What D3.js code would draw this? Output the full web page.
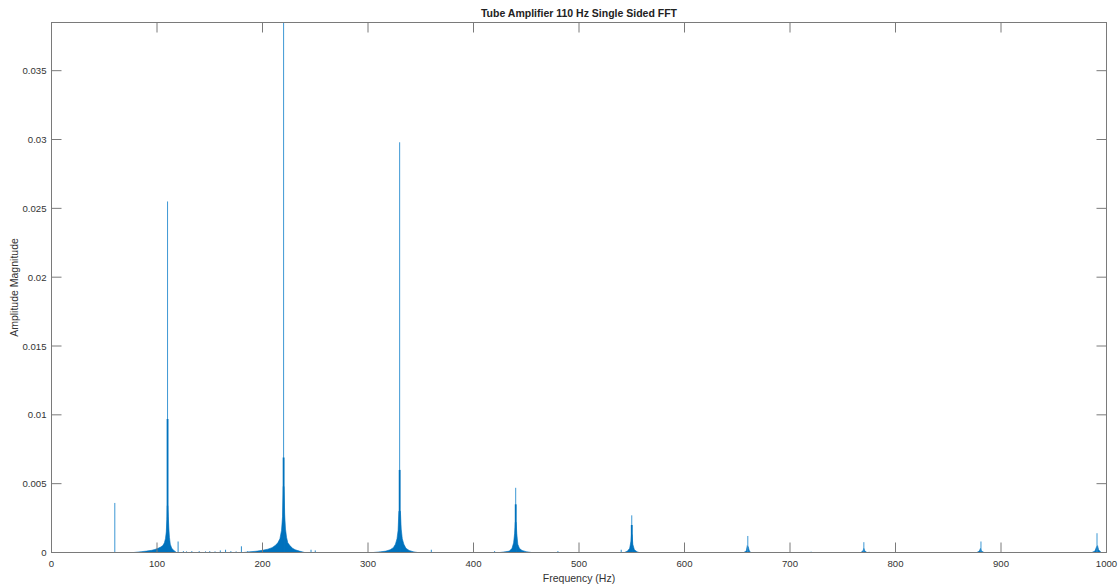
<!DOCTYPE html>
<html>
<head>
<meta charset="utf-8">
<script src="https://cdn.jsdelivr.net/npm/d3@7"></script>
<style>
body{margin:0;background:#fff;}
text{font-family:"Liberation Sans",Arial,sans-serif;fill:#333;}
</style>
</head>
<body>
<svg id="graph"></svg>
<script>
// tick values
var xTicks=[0,100,200,300,400,500,600,700,800,900,1000];
var yTicks=[0,0.005,0.01,0.015,0.02,0.025,0.03,0.035];

// skirts around each harmonic [freq, amplitude]
var skirt110=[[78,0],[85,0.00006],[90,0.0001],[95,0.00016],[98,0.00022],[101,0.0003],[103.5,0.0004],[105.5,0.0005],[107,0.0007],[108,0.001],[108.8,0.0015],[109.4,0.0024],[109.7,0.0034],[110.3,0.0034],[110.7,0.0026],[111.2,0.0018],[111.8,0.0011],[112.6,0.0006],[114,0.0003],[116,0.00015],[118.5,0]];
var skirt220=[[182,0],[188,0.00005],[195,0.0001],[200,0.00016],[205,0.00024],[209,0.00035],[212,0.0005],[214.5,0.0007],[216.5,0.001],[218,0.0016],[219,0.0026],[219.6,0.0048],[220.4,0.0048],[221,0.0028],[221.8,0.0017],[222.8,0.0011],[224,0.0007],[226,0.0005],[228.5,0.0003],[231,0.0002],[235,0.0001],[240,0]];
var skirt330=[[305,0],[312,0.00005],[317,0.0001],[321,0.0002],[324,0.00035],[326,0.0006],[327.5,0.001],[328.5,0.0016],[329.3,0.003],[330.7,0.003],[331.5,0.0017],[332.5,0.001],[334,0.0006],[336,0.0003],[339,0.00015],[343,0.00005],[347,0]];
var skirt440=[[425,0],[430,0.00005],[434,0.0001],[436.5,0.0003],[438,0.0007],[439,0.0014],[439.6,0.0022],[440.4,0.0022],[441,0.0014],[442,0.0006],[443.5,0.0003],[446,0.00015],[450,0.00006],[455,0]];
var skirt550=[[543,0],[546,0.0001],[548,0.0003],[549.2,0.0008],[549.8,0.0013],[550.3,0.0013],[551,0.0006],[552.5,0.0002],[555,0.00005],[557,0]];
var skirt660=[[656,0],[658.5,0.0001],[659.5,0.0005],[660.5,0.0004],[661.5,0.0001],[663,0]];
var skirt770=[[767,0],[769,0.0001],[770,0.0003],[771,0.0001],[773,0]];
var skirt880=[[877,0],[879.5,0.0001],[880.5,0.0003],[881.5,0.0001],[884,0]];
var skirt990=[[986,0],[989,0.0001],[990.5,0.0004],[991.5,0.0005],[992.5,0.0002],[995,0]];

// tall bins
var peakTips=[[60,0.0036],[110,0.0255],[220,0.045],[330,0.0298],[440,0.0047],[550,0.0027],[660,0.0012],[770,0.00075],[881,0.0008],[991,0.0014]];
var peakShoulders=[[110,0.0097],[220,0.0069],[330,0.006],[440,0.0035],[550,0.002]];
var noiseSpikes=[[120,0.0008],[125,0.0001],[128,0.00008],[133,0.0001],[140,0.0001],[146,0.00008],[150,0.0001],[155,0.00008],[160,0.00015],[165,0.0002],[170,0.0001],[175,0.00008],[180,0.00045],[186,0.0001],[246,0.0002],[250,0.00015],[360,0.0002],[420,0.0001],[480,0.0001],[540,0.0002],[720,0.00006],[775,0.00005]];

var skirts=[skirt110,skirt220,skirt330,skirt440,skirt550,skirt660,skirt770,skirt880,skirt990];

var screen={width:1119,height:586};
var margin={left:51.5,right:12.5,top:22.5,bottom:33.5};
var blue="#0072BD";

var svg=d3.select("#graph")
  .attr("width",screen.width)
  .attr("height",screen.height);

var xScale=d3.scaleLinear()
  .domain([0,1000])
  .range([margin.left,screen.width-margin.right]);
var yScale=d3.scaleLinear()
  .domain([0,0.0385])
  .range([screen.height-margin.bottom,margin.top]);

svg.append("clipPath").attr("id","clip")
  .append("rect")
  .attr("x",margin.left).attr("y",margin.top)
  .attr("width",xScale(1000)-margin.left)
  .attr("height",yScale(0)-margin.top);

var plot=svg.append("g").attr("clip-path","url(#clip)");

var area=d3.area()
  .x(function(d){return xScale(d[0]);})
  .y0(yScale(0))
  .y1(function(d){return yScale(d[1]);});

plot.selectAll("path.skirt")
  .data(skirts)
  .enter()
  .append("path")
  .attr("class","skirt")
  .attr("d",area)
  .attr("fill",blue)
  .attr("stroke",blue)
  .attr("stroke-width",0.6);

var drawSpikes=function(data,cls,w,col)
{
  plot.selectAll("line."+cls)
    .data(data)
    .enter()
    .append("line")
    .attr("class",cls)
    .attr("x1",function(d){return xScale(d[0]);})
    .attr("x2",function(d){return xScale(d[0]);})
    .attr("y1",yScale(0))
    .attr("y2",function(d){return yScale(d[1]);})
    .attr("stroke",col)
    .attr("stroke-width",w);
}
drawSpikes(noiseSpikes,"noise",1,"#2a8ccc");
drawSpikes(peakTips,"tip",1,"#3d98d4");
drawSpikes(peakShoulders,"shoulder",1.8,blue);

// axes box with inward ticks
var axisColor="#7a7a7a";
var x0=xScale(0),x1=xScale(1000),y0=yScale(0),y1=yScale(0.0385);
var axes=svg.append("g");

axes.append("rect")
  .attr("x",x0).attr("y",y1)
  .attr("width",x1-x0).attr("height",y0-y1)
  .attr("fill","none").attr("stroke",axisColor).attr("stroke-width",1);

axes.selectAll("line.xb").data(xTicks).enter().append("line")
  .attr("x1",function(d){return xScale(d);}).attr("x2",function(d){return xScale(d);})
  .attr("y1",y0).attr("y2",y0-10).attr("stroke",axisColor);
axes.selectAll("line.xt").data(xTicks).enter().append("line")
  .attr("x1",function(d){return xScale(d);}).attr("x2",function(d){return xScale(d);})
  .attr("y1",y1).attr("y2",y1+10).attr("stroke",axisColor);
axes.selectAll("line.yl").data(yTicks).enter().append("line")
  .attr("x1",x0).attr("x2",x0+10)
  .attr("y1",function(d){return yScale(d);}).attr("y2",function(d){return yScale(d);}).attr("stroke",axisColor);
axes.selectAll("line.yr").data(yTicks).enter().append("line")
  .attr("x1",x1).attr("x2",x1-10)
  .attr("y1",function(d){return yScale(d);}).attr("y2",function(d){return yScale(d);}).attr("stroke",axisColor);

axes.selectAll("text.xl").data(xTicks).enter().append("text")
  .attr("x",function(d){return xScale(d);})
  .attr("y",y0+14)
  .attr("text-anchor","middle")
  .attr("font-size","9.6px")
  .text(function(d){return d;});

axes.selectAll("text.yl").data(yTicks).enter().append("text")
  .attr("x",x0-5)
  .attr("y",function(d){return yScale(d)+3.5;})
  .attr("text-anchor","end")
  .attr("font-size","9.6px")
  .text(function(d){return d===0?"0":String(+d.toFixed(3));});

svg.append("text")
  .attr("x",(x0+x1)/2).attr("y",16.5)
  .attr("text-anchor","middle")
  .attr("font-size","10.5px")
  .attr("font-weight","bold")
  .style("fill","#222")
  .text("Tube Amplifier 110 Hz Single Sided FFT");

svg.append("text")
  .attr("x",(x0+x1)/2).attr("y",582)
  .attr("text-anchor","middle")
  .attr("font-size","10.5px")
  .text("Frequency (Hz)");

svg.append("text")
  .attr("transform","translate(18,"+((y0+y1)/2)+") rotate(-90)")
  .attr("text-anchor","middle")
  .attr("font-size","10.5px")
  .text("Amplitude Magnitude");
</script>
</body>
</html>
